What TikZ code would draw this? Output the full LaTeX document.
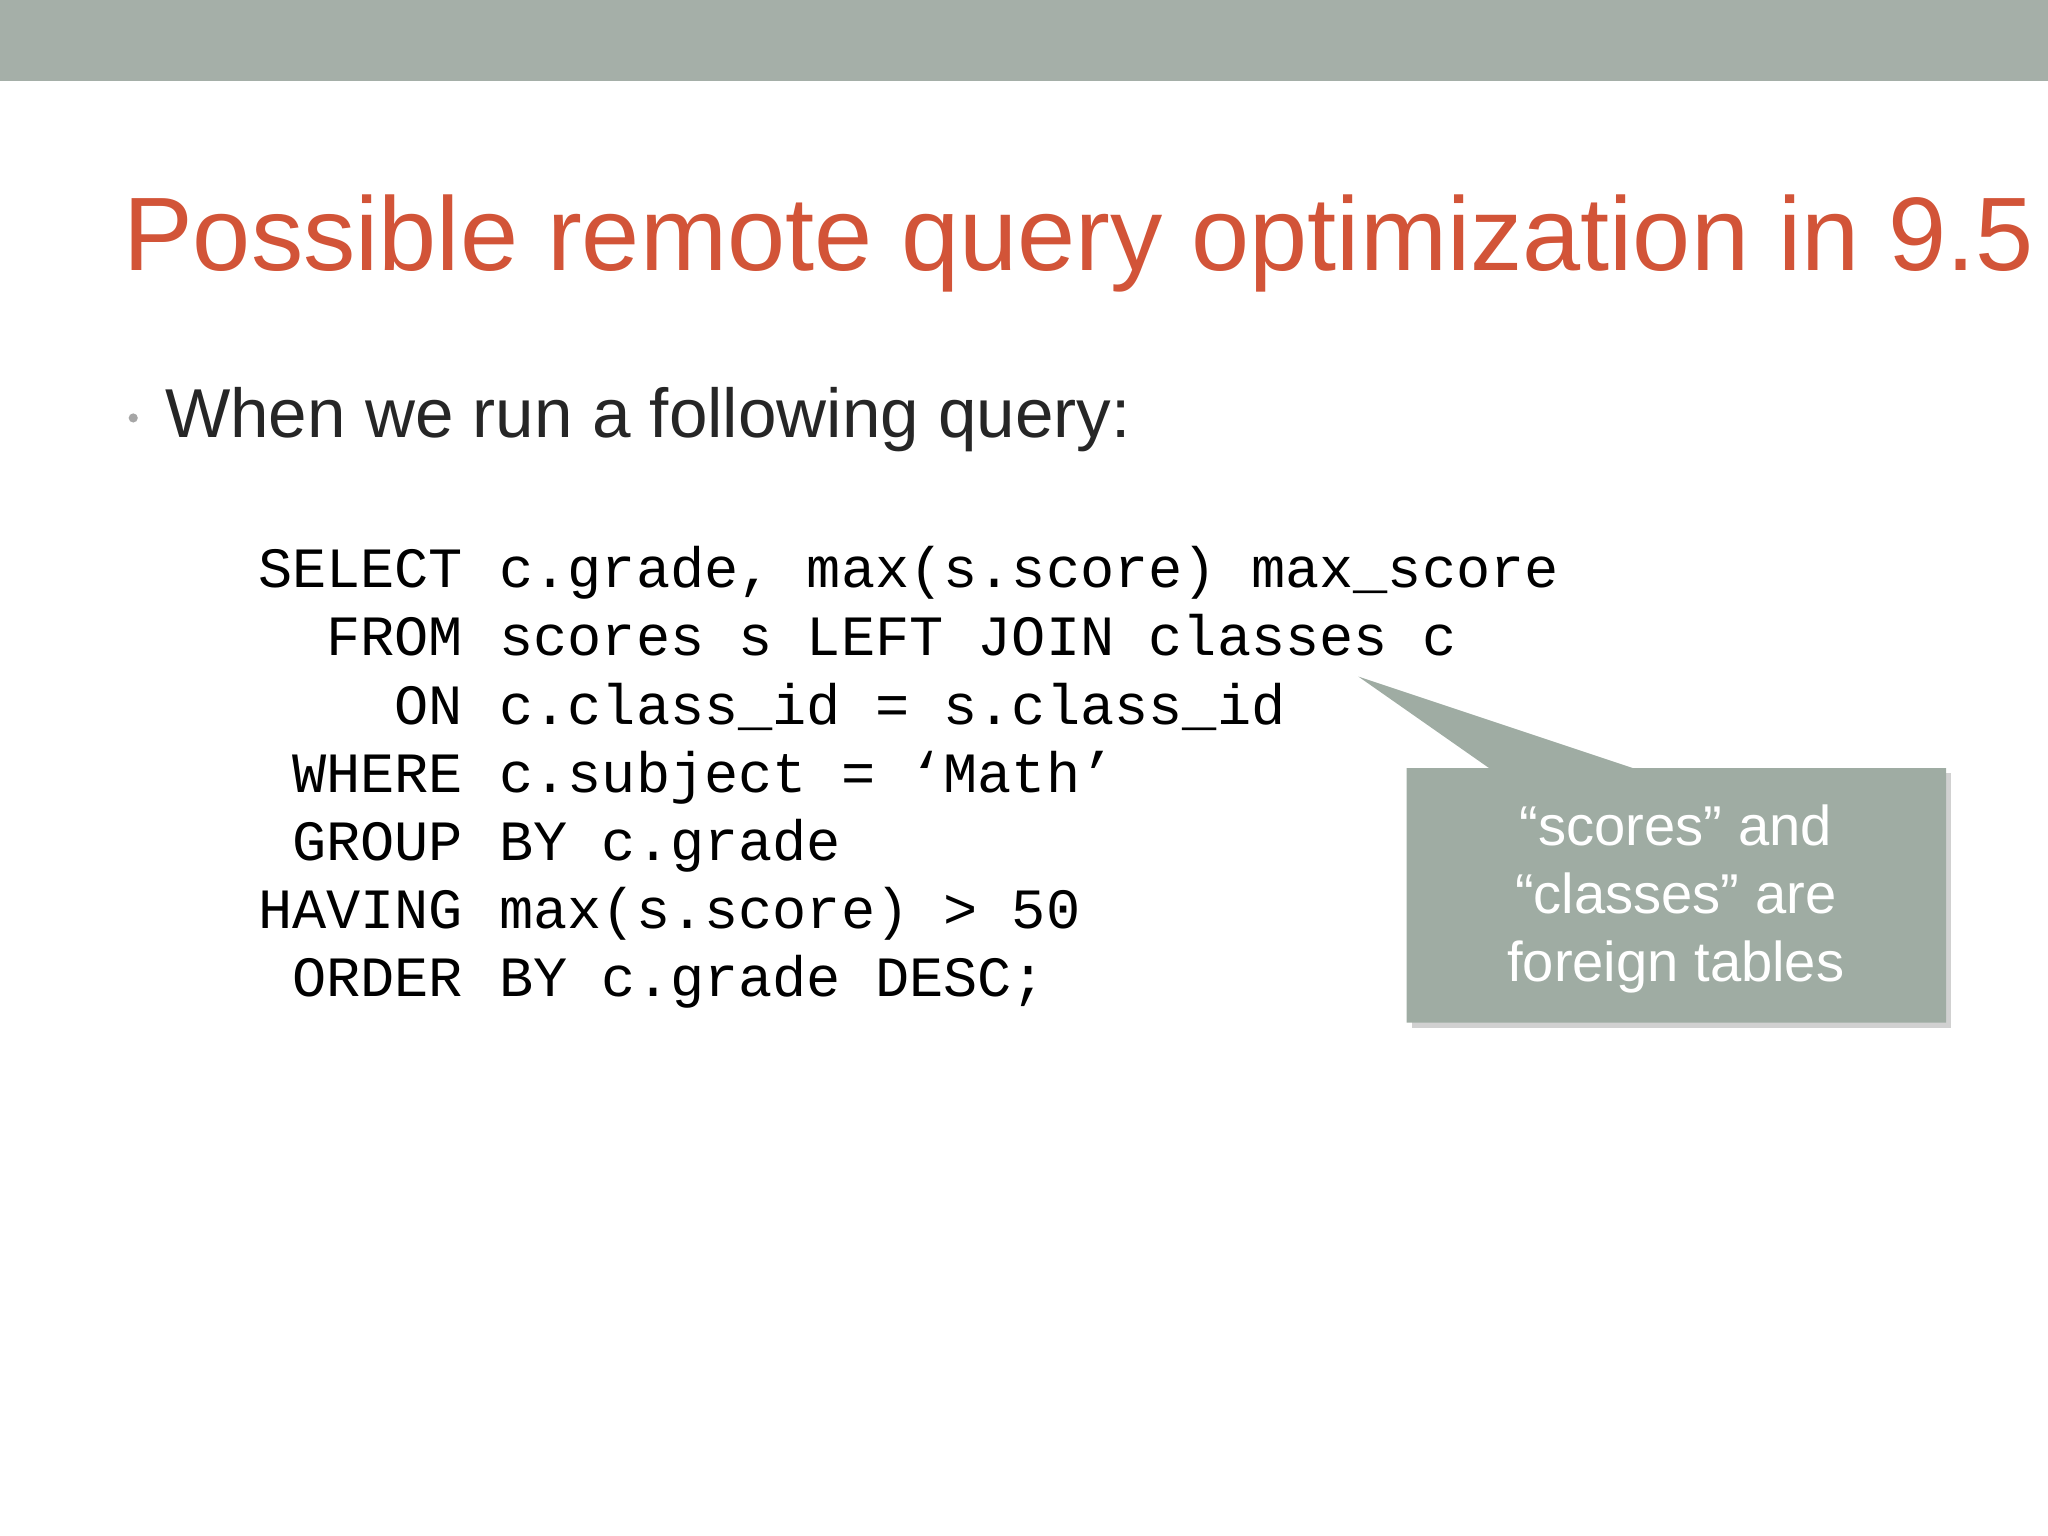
\documentclass[tikz,border=0pt]{standalone}
\usepackage{fontspec}
\setmainfont{Liberation Sans}
\newfontfamily\codefont{Liberation Mono}
\definecolor{barc}{HTML}{A5AFA8}
\definecolor{titlec}{HTML}{D25438}
\definecolor{boxc}{HTML}{9FACA3}
\begin{document}
\begin{tikzpicture}[x=0.5pt,y=-0.5pt,
  kw/.style={anchor=base east,inner sep=0pt,font=\codefont\fontsize{21.8}{26}\selectfont},
  cd/.style={anchor=base west,inner sep=0pt,font=\codefont\fontsize{21.8}{26}\selectfont}]
\useasboundingbox (0,0) rectangle (1568,1176);
\fill[barc] (0,0) rectangle (1568,62);
\node[anchor=base west,inner sep=0pt,text=titlec,font=\fontsize{40}{48}\selectfont] (title) at (94,207) {Possible remote query optimization in 9.5};
\fill[gray!70] (102,320) circle (3.5);
\node[anchor=base west,inner sep=0pt,text=black!85,font=\fontsize{26.5}{32}\selectfont] (bul) at (126,335) {When we run a following query:};
\foreach \k/\c [count=\i] in {SELECT/{c.grade, max(s.score) max\_score},FROM/{scores s LEFT JOIN classes c},ON/{c.class\_id = s.class\_id},WHERE/{c.subject = ‘Math’},GROUP/{BY c.grade},HAVING/{max(s.score) > 50},ORDER/{BY c.grade DESC;}}{
  \node[kw] (k\i) at (355,{450+52.2*(\i-1)}) {\k};
  \node[cd] (c\i) at (382,{450+52.2*(\i-1)}) {\c};
}
\coordinate (tip) at (1040,518);
\fill[black!30,opacity=0.6] (1081,592) rectangle (1494,787);
\fill[boxc] (tip) -- (1250,588) -- (1490,588) -- (1490,783) -- (1077,783) -- (1077,588) -- (1140,588) -- cycle;
\node[text=white,align=center,font=\fontsize{21.5}{26}\selectfont] (note) at (1283,688) {“scores” and\\“classes” are\\foreign tables};
\end{tikzpicture}
\end{document}
